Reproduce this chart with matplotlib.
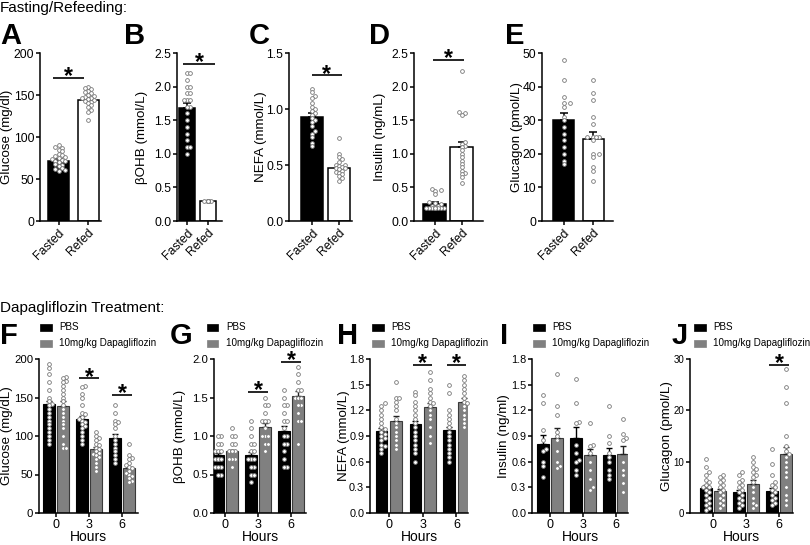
import matplotlib
matplotlib.use('Agg')
import matplotlib.pyplot as plt
from matplotlib.patches import Rectangle
import numpy as np

plt.rcParams['font.family'] = ['Liberation Sans', 'DejaVu Sans']

# ---------------- DATA ----------------
fr_categories = ["Fasted", "Refed"]

glucA_means = [72, 144]
glucA_sem = [2.0, 2.2]
glucA_fasted = [90, 88, 87, 85, 83, 80, 78, 77, 76, 75, 74, 73, 72, 71, 70, 68, 67, 65, 63, 62, 61, 60]
glucA_refed = [160, 158, 157, 155, 153, 152, 150, 149, 148, 147, 146, 145, 144, 143, 142, 140, 138, 136, 132, 130, 120]

bohbB_means = [1.68, 0.30]
bohbB_sem = [0.07, 0.005]
bohbB_fasted = [2.2, 2.2, 2.1, 2.0, 2.0, 1.9, 1.9, 1.8, 1.8, 1.8, 1.7, 1.7, 1.6, 1.5, 1.4, 1.3, 1.2, 1.1, 1.1, 1.0]
bohbB_refed = [0.3] * 20

nefaC_means = [0.93, 0.47]
nefaC_sem = [0.03, 0.015]
nefaC_fasted = [1.18, 1.15, 1.12, 1.1, 1.05, 1.02, 1.0, 0.98, 0.96, 0.95, 0.92, 0.9, 0.88, 0.85, 0.8, 0.78, 0.75, 0.7, 0.67]
nefaC_refed = [0.74, 0.6, 0.57, 0.55, 0.53, 0.5, 0.5, 0.49, 0.48, 0.47, 0.47, 0.46, 0.45, 0.44, 0.43, 0.42, 0.4, 0.38, 0.36]

insD_means = [0.26, 1.10]
insD_sem = [0.02, 0.08]
insD_fasted = [0.47, 0.46, 0.45, 0.40, 0.28, 0.27, 0.25, 0.23, 0.22, 0.21, 0.2, 0.2, 0.2, 0.2, 0.2, 0.2, 0.2, 0.19]
insD_refed = [2.23, 1.62, 1.60, 1.58, 1.18, 1.15, 1.12, 1.10, 1.05, 1.0, 0.95, 0.9, 0.85, 0.8, 0.75, 0.72, 0.7, 0.65, 0.57]

gcgE_means = [30.0, 24.5]
gcgE_sem = [2.0, 2.0]
gcgE_fasted = [48, 42, 37, 35, 35, 34, 31, 30, 28, 26, 24, 22, 20, 18, 17]
gcgE_refed = [42, 38, 36, 31, 29, 25, 25, 25, 25, 24, 20, 20, 19, 16, 15, 12]

hours = ["0", "3", "6"]
series_names = ["PBS", "10mg/kg Dapagliflozin"]

glucF_pbs_mean = [141, 122, 97]
glucF_pbs_sem = [5, 4, 5]
glucF_dapa_mean = [139, 83, 58]
glucF_dapa_sem = [6, 3, 2]
glucF_pbs_pts = [[193, 188, 180, 170, 160, 150, 145, 142, 140, 135, 130, 125, 120, 115, 110, 105, 100, 95, 90],
                 [165, 163, 155, 150, 140, 130, 128, 125, 122, 120, 118, 115, 113, 110, 105, 100, 95, 90],
                 [140, 130, 120, 118, 115, 110, 100, 95, 90, 85, 80, 75, 70, 65]]
glucF_dapa_pts = [[177, 175, 172, 170, 165, 160, 155, 150, 145, 140, 135, 130, 125, 120, 115, 110, 100, 90, 85, 85],
                  [105, 100, 98, 95, 90, 88, 85, 83, 80, 78, 76, 75, 73, 70, 65, 60, 55],
                  [90, 75, 72, 70, 65, 62, 60, 58, 55, 52, 50, 48, 45, 42, 40]]

bohbG_pbs_mean = [0.75, 0.75, 1.07]
bohbG_pbs_sem = [0.03, 0.04, 0.06]
bohbG_dapa_mean = [0.80, 1.12, 1.52]
bohbG_dapa_sem = [0.02, 0.05, 0.06]
bohbG_pbs_pts = [[1.0, 1.0, 0.9, 0.9, 0.8, 0.8, 0.8, 0.7, 0.7, 0.7, 0.7, 0.6, 0.6, 0.6, 0.5, 0.5],
                 [1.2, 1.1, 1.0, 0.9, 0.9, 0.8, 0.8, 0.7, 0.7, 0.7, 0.6, 0.6, 0.5, 0.5, 0.4],
                 [1.6, 1.5, 1.4, 1.4, 1.3, 1.2, 1.2, 1.1, 1.0, 1.0, 0.9, 0.9, 0.8, 0.7, 0.6, 0.6]]
bohbG_dapa_pts = [[1.1, 1.0, 1.0, 0.9, 0.9, 0.8, 0.8, 0.8, 0.8, 0.7, 0.7, 0.7, 0.6],
                  [1.5, 1.4, 1.4, 1.3, 1.2, 1.2, 1.2, 1.1, 1.0, 1.0, 1.0, 0.9, 0.9, 0.8],
                  [1.9, 1.8, 1.7, 1.6, 1.6, 1.5, 1.5, 1.5, 1.4, 1.4, 1.3, 1.2, 1.2, 0.9]]

nefaH_pbs_mean = [0.96, 1.04, 0.97]
nefaH_pbs_sem = [0.03, 0.04, 0.04]
nefaH_dapa_mean = [1.08, 1.24, 1.30]
nefaH_dapa_sem = [0.05, 0.05, 0.05]
nefaH_pbs_pts = [[1.28, 1.25, 1.2, 1.15, 1.1, 1.05, 1.0, 0.98, 0.95, 0.92, 0.9, 0.88, 0.85, 0.8, 0.78, 0.75, 0.7],
                 [1.42, 1.38, 1.3, 1.25, 1.2, 1.15, 1.1, 1.05, 1.0, 0.95, 0.9, 0.85, 0.8, 0.75, 0.7, 0.6],
                 [1.5, 1.4, 1.2, 1.15, 1.1, 1.05, 1.0, 0.95, 0.9, 0.85, 0.8, 0.75, 0.7, 0.65, 0.6]]
nefaH_dapa_pts = [[1.53, 1.35, 1.35, 1.3, 1.25, 1.2, 1.1, 1.05, 1.0, 0.95, 0.9, 0.85, 0.8, 0.75],
                  [1.65, 1.55, 1.45, 1.4, 1.35, 1.3, 1.28, 1.25, 1.2, 1.15, 1.1, 1.0, 0.9, 0.82],
                  [1.6, 1.55, 1.5, 1.45, 1.4, 1.35, 1.3, 1.28, 1.25, 1.2, 1.15, 1.1, 1.05, 1.0]]

insI_pbs_mean = [0.81, 0.88, 0.68]
insI_pbs_sem = [0.10, 0.12, 0.08]
insI_dapa_mean = [0.88, 0.68, 0.69]
insI_dapa_sem = [0.11, 0.07, 0.09]
insI_pbs_pts = [[1.38, 1.28, 0.97, 0.85, 0.75, 0.72, 0.6, 0.55, 0.42],
                [1.57, 1.28, 1.06, 1.05, 0.8, 0.7, 0.62, 0.6, 0.5, 0.45],
                [1.25, 0.9, 0.82, 0.7, 0.65, 0.6, 0.5, 0.45, 0.4]]
insI_dapa_pts = [[1.62, 1.25, 1.15, 0.95, 0.9, 0.85, 0.72, 0.6, 0.55, 0.53],
                 [1.05, 0.8, 0.78, 0.7, 0.6, 0.5, 0.4, 0.3, 0.27],
                 [1.1, 0.92, 0.88, 0.85, 0.6, 0.5, 0.45, 0.35, 0.25]]

gcgJ_pbs_mean = [4.9, 4.0, 4.2]
gcgJ_pbs_sem = [0.6, 0.5, 0.7]
gcgJ_dapa_mean = [4.2, 5.7, 11.4]
gcgJ_dapa_sem = [0.5, 0.8, 1.5]
gcgJ_pbs_pts = [[10.5, 9, 8, 7.5, 6.5, 6, 5.5, 5, 5, 4.5, 4, 3.5, 3, 2.5, 2, 1.5, 1, 0.5],
                [8, 7.5, 6.5, 6, 5.5, 5, 4.5, 4, 3.5, 3, 2.5, 2, 1.5, 1],
                [12.5, 9.5, 7.5, 6, 5.5, 5, 4.5, 4, 3.5, 3, 2.5, 2, 1.5]]
gcgJ_dapa_pts = [[7.5, 7, 6.5, 6, 5.5, 5, 4.5, 4, 3.5, 3, 2.5, 2, 1.5, 1],
                 [11, 10, 9, 8.5, 8, 7.5, 7, 6, 5, 4, 3, 2, 1.5, 1],
                 [28, 24.5, 21.5, 15, 13, 12, 11.5, 11, 10, 9, 8, 7, 5, 3.5, 2.5, 1.5]]

# ---------------- LAYOUT / STYLE ----------------
W, H = 810, 545
fig = plt.figure(figsize=(W / 100, H / 100), dpi=100)

TICK_FS = 8.2
LABEL_FS = 9.6
DOT_KW = dict(marker='o', ms=2.7, mfc='white', mec='#777777', mew=0.6, ls='none', zorder=4, clip_on=False)


def rect(x0, y0, x1, y1):
    return [x0 / W, 1 - y1 / H, (x1 - x0) / W, (y1 - y0) / H]


def swarm(vals, ypx, xpx, maxw_px, dot=3.3):
    vals = np.asarray(vals, float)
    order = np.argsort(vals)
    placed = []
    offs = np.zeros(len(vals))
    step = dot * 0.95
    nmax = max(0, int(maxw_px // step))
    cands = [0.0]
    for k in range(1, nmax + 1):
        cands += [k * step, -k * step]
    for i in order:
        y = vals[i] * ypx
        best, bestd = None, -1
        for c in cands:
            d = min([np.hypot(c - px, y - py) for px, py in placed] or [99])
            if d >= dot:
                best = c
                break
            if d > bestd:
                bestd, best = d, c
        placed.append((best, y))
        offs[i] = best
    return offs / xpx


def style_axis(ax, box, ylim, yticks, yfmt, ylabel, label_x, tick_fs):
    x0, y0, x1, y1 = box
    ax.set_ylim(*ylim)
    ax.set_yticks(yticks)
    ax.set_yticklabels([yfmt.format(v) for v in yticks], fontsize=tick_fs)
    for s in ['top', 'right']:
        ax.spines[s].set_visible(False)
    for s in ['left', 'bottom']:
        ax.spines[s].set_linewidth(1.1)
    ax.tick_params(axis='both', direction='out', length=3.2, width=1.1, pad=1.0)
    ax.set_ylabel(ylabel, fontsize=LABEL_FS)
    ax.yaxis.set_label_coords((label_x - x0) / (x1 - x0), 0.5)
    ax.yaxis.label.set_va('center')
    ax.patch.set_alpha(0)


def sig(ax, x1, x2, y):
    ax.plot([x1, x2], [y, y], color='black', lw=1.2, clip_on=False, solid_capstyle='butt')
    ax.annotate('*', xy=((x1 + x2) / 2, y), xytext=(0, -3.8), textcoords='offset points',
                ha='center', va='baseline', fontsize=16.5, fontweight='bold', annotation_clip=False)


def top_panel(box, c1, c2, wpx, means, sems, grp_pts, colors, ylim, yticks, yfmt, ylabel, label_x, sigline):
    x0, y0, x1, y1 = box
    s = c2 - c1
    ax = fig.add_axes(rect(*box))
    ax.set_xlim((x0 - c1) / s, (x1 - c1) / s)
    width = wpx / s
    xs = np.arange(len(fr_categories))
    ax.bar(xs, means, width, color=colors, edgecolor='black', linewidth=1.1, zorder=2)
    ax.errorbar(xs, means, yerr=[np.zeros(len(xs)), sems], fmt='none', ecolor='black',
                elinewidth=1.1, capsize=3, capthick=1.1, zorder=3)
    ypx = (y1 - y0) / (ylim[1] - ylim[0])
    for xi, pts in zip(xs, grp_pts):
        offs = swarm(pts, ypx, s, wpx / 2 - 2)
        ax.plot(xi + offs, pts, **DOT_KW)
    style_axis(ax, box, ylim, yticks, yfmt, ylabel, label_x, TICK_FS + 0.6)
    ax.set_xticks(xs)
    ax.set_xticklabels(fr_categories, rotation=45, ha='right', va='top',
                       rotation_mode='anchor', fontsize=TICK_FS + 0.6)
    if sigline:
        a, b, y = sigline
        sig(ax, a, b, y)
    return ax


def bottom_panel(box, centers, pmean, psem, dmean, dsem, ppts, dpts, ylim, yticks, yfmt, ylabel, label_x,
                 sigs, leg_x, tick_fs=TICK_FS):
    x0, y0, x1, y1 = box
    s = (centers[1] - centers[0])
    ax = fig.add_axes(rect(*box))
    ax.set_xlim((x0 - centers[0]) / s, (x1 - centers[0]) / s)
    wpx = 11.8
    width = wpx / s
    off = (wpx / 2 + 1.2) / s
    xs = np.arange(len(hours))
    ax.bar(xs - off, pmean, width, color='black', edgecolor='black', linewidth=0.8, zorder=2)
    ax.bar(xs + off, dmean, width, color='#808080', edgecolor='#3a3a3a', linewidth=0.8, zorder=2)
    ax.errorbar(xs - off, pmean, yerr=[np.zeros(3), psem], fmt='none', ecolor='black',
                elinewidth=1.0, capsize=2.5, capthick=1.0, zorder=3)
    ax.errorbar(xs + off, dmean, yerr=[np.zeros(3), dsem], fmt='none', ecolor='#222222',
                elinewidth=1.0, capsize=2.5, capthick=1.0, zorder=3)
    ypx = (y1 - y0) / (ylim[1] - ylim[0])
    for xi in xs:
        o1 = swarm(ppts[xi], ypx, s, wpx / 2 - 1.5)
        ax.plot(xi - off + o1, ppts[xi], **DOT_KW)
        o2 = swarm(dpts[xi], ypx, s, wpx / 2 - 1.5)
        ax.plot(xi + off + o2, dpts[xi], **DOT_KW)
    style_axis(ax, box, ylim, yticks, yfmt, ylabel, label_x, tick_fs)
    ax.set_xticks(xs)
    ax.set_xticklabels(hours, fontsize=TICK_FS + 0.8)
    ax.set_xlabel('Hours', fontsize=LABEL_FS + 0.4)
    ax.xaxis.set_label_coords(0.5, -(537 - y1) / (y1 - y0))
    ax.xaxis.label.set_va('center')
    for g, y in sigs:
        sig(ax, g - 0.29, g + 0.29, y)
    # legend
    for name, yc, col in zip(series_names, [327.5, 343.5], ['black', '#808080']):
        fig.patches.append(Rectangle((leg_x / W, 1 - (yc + 3.3) / H), 11.5 / W, 6.6 / H,
                                     transform=fig.transFigure, facecolor=col,
                                     edgecolor=col, linewidth=0.5))
        fig.text((leg_x + 19) / W, 1 - yc / H, name, fontsize=7.1, va='center', ha='left')
    return ax


# ---------------- SECTION TITLES ----------------
fig.text(0 / W, 1 - 8 / H, 'Fasting/Refeeding:', fontsize=11, va='center', ha='left')
fig.text(0 / W, 1 - 308 / H, 'Dapagliflozin Treatment:', fontsize=11, va='center', ha='left')

# ---------------- TOP ROW ----------------
top_y = (53, 221)
top_panel((40, top_y[0], 101, top_y[1]), 58.5, 88, 21, glucA_means, glucA_sem,
          [glucA_fasted, glucA_refed], ['black', 'white'], (0, 200), [0, 50, 100, 150, 200], '{:.0f}',
          'Glucose (mg/dl)', 7, (-0.19, 0.86, 170))
top_panel((177, top_y[0], 222, top_y[1]), 187, 207.5, 16, bohbB_means, bohbB_sem,
          [bohbB_fasted, bohbB_refed], ['black', 'white'], (0, 2.5), [0, 0.5, 1.0, 1.5, 2.0, 2.5], '{:.1f}',
          'βOHB (mmol/L)', 142, (-0.2, 1.37, 2.34))
top_panel((289, top_y[0], 352, top_y[1]), 312, 339, 22, nefaC_means, nefaC_sem,
          [nefaC_fasted, nefaC_refed], ['black', 'white'], (0, 1.5), [0, 0.5, 1.0, 1.5], '{:.1f}',
          'NEFA (mmol/L)', 261, (0.0, 1.1, 1.30))
top_panel((414, top_y[0], 483, top_y[1]), 435, 462, 23, insD_means, insD_sem,
          [insD_fasted, insD_refed], ['black', 'white'], (0, 2.5), [0, 0.5, 1.0, 1.5, 2.0, 2.5], '{:.1f}',
          'Insulin (ng/mL)', 380, (-0.07, 1.07, 2.40))
top_panel((542, top_y[0], 613, top_y[1]), 563.5, 593, 21, gcgE_means, gcgE_sem,
          [gcgE_fasted, gcgE_refed], ['black', 'white'], (0, 50), [0, 10, 20, 30, 40, 50], '{:.0f}',
          'Glucagon (pmol/L)', 517, None)

for letter, xpx in zip('ABCDE', [0, 124, 249, 369, 505]):
    fig.text(xpx / W, 1 - 36 / H, letter, fontsize=21, fontweight='bold', va='center', ha='left')

# ---------------- BOTTOM ROW ----------------
bot_y = (359, 513)
bottom_panel((39, bot_y[0], 138, bot_y[1]), (56, 89), glucF_pbs_mean, glucF_pbs_sem, glucF_dapa_mean,
             glucF_dapa_sem, glucF_pbs_pts, glucF_dapa_pts, (0, 200), [0, 50, 100, 150, 200], '{:.0f}',
             'Glucose (mg/dL)', 7, [(1, 175), (2, 153)], 40)
bottom_panel((214, bot_y[0], 306, bot_y[1]), (225, 258), bohbG_pbs_mean, bohbG_pbs_sem, bohbG_dapa_mean,
             bohbG_dapa_sem, bohbG_pbs_pts, bohbG_dapa_pts, (0, 2.0), [0, 0.5, 1.0, 1.5, 2.0], '{:.1f}',
             'βOHB (mmol/L)', 180, [(1, 1.575), (2, 1.96)], 207)
bottom_panel((370, bot_y[0], 468, bot_y[1]), (388.5, 422.5), nefaH_pbs_mean, nefaH_pbs_sem, nefaH_dapa_mean,
             nefaH_dapa_sem, nefaH_pbs_pts, nefaH_dapa_pts, (0, 1.8), [0, 0.3, 0.6, 0.9, 1.2, 1.5, 1.8], '{:.1f}',
             'NEFA (mmol/L)', 344, [(1, 1.73), (2, 1.73)], 372, tick_fs=7.8)
bottom_panel((532, bot_y[0], 628, bot_y[1]), (550, 583), insI_pbs_mean, insI_pbs_sem, insI_dapa_mean,
             insI_dapa_sem, insI_pbs_pts, insI_dapa_pts, (0, 1.8), [0, 0.3, 0.6, 0.9, 1.2, 1.5, 1.8], '{:.1f}',
             'Insulin (ng/ml)', 504, [], 533, tick_fs=7.8)
bottom_panel((690, bot_y[0], 793, bot_y[1]), (713, 746), gcgJ_pbs_mean, gcgJ_pbs_sem, gcgJ_dapa_mean,
             gcgJ_dapa_sem, gcgJ_pbs_pts, gcgJ_dapa_pts, (0, 30), [0, 10, 20, 30], '{:.0f}',
             'Glucagon (pmol/L)', 667, [(2, 28.8)], 694, tick_fs=7.0)

for letter, xpx in zip('FGHIJ', [0, 170, 337, 500, 672]):
    fig.text(xpx / W, 1 - 336 / H, letter, fontsize=21, fontweight='bold', va='center', ha='left')

fig.savefig('out.png', dpi=100)
